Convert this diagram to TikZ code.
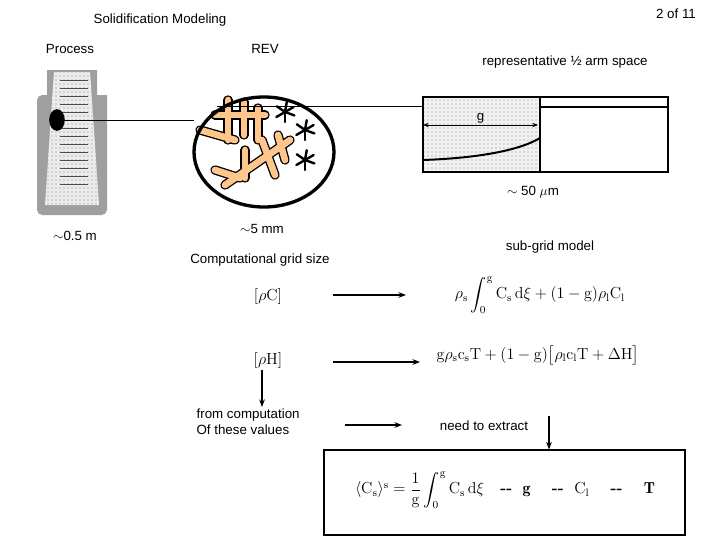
\documentclass[tikz,border=0pt]{standalone}
\usepackage{fontspec}
\setsansfont{Liberation Sans}
\usepackage{amsmath}
\usetikzlibrary{arrows.meta, positioning, patterns}

\begin{document}
\begin{tikzpicture}[
    x=0.75pt, y=-0.75pt,
    lbl/.style={font=\sffamily, inner sep=1pt},
    eqn/.style={font=\large, inner sep=1pt},
    arrow/.style={-{Stealth[length=2mm]}, thick},
    dend/.style={line width=7pt, line cap=round, draw=black},
    dendfill/.style={line width=5pt, line cap=round, draw=orange!45}
]
    \useasboundingbox (0,0) rectangle (720,540);

    % Headings
    \node[lbl] (title) at (160,20) {Solidification Modeling};
    \node[lbl] (page) at (676,14) {2 of 11};
    \node[lbl] (process) at (70,49) {Process};
    \node[lbl] (rev) at (265,49) {REV};
    \node[lbl] (arm) at (565,62) {representative ½ arm space};

    % Casting mould
    \fill[gray!75] (47,70) -- (97,70) -- (97,95) -- (107,95) -- (107,210)
        [rounded corners=4] -- (107,215) -- (37,215) -- (37,95) [sharp corners] -- (47,95) -- cycle;
    \fill[gray!15] (54,72) -- (90,72) -- (92,100) -- (99,205) -- (45,205) -- (52,100) -- cycle;
    \fill[pattern=dots, pattern color=gray] (54,72) -- (90,72) -- (92,100) -- (99,205) -- (45,205) -- (52,100) -- cycle;
    \foreach \yy in {80,88,...,190}
        \draw[gray!60!black] (60,\yy) -- (88,\yy);
    \draw[line width=1.2pt, fill=black] (57,120) ellipse (7 and 10);
    \coordinate (spot) at (64,120);

    % REV circle with dendrites
    \foreach \a/\b in {{(215,115)}/{(265,115)}, {(228,100)}/{(228,140)}, {(244,102)}/{(244,135)},
        {(258,108)}/{(258,140)}, {(200,130)}/{(235,140)}, {(225,185)}/{(290,140)},
        {(245,150)}/{(245,178)}, {(262,140)}/{(275,175)}, {(278,135)}/{(285,160)}, {(215,170)}/{(240,178)}} {
        \draw[dend] \a -- \b;
    }
    \foreach \a/\b in {{(215,115)}/{(265,115)}, {(228,100)}/{(228,140)}, {(244,102)}/{(244,135)},
        {(258,108)}/{(258,140)}, {(200,130)}/{(235,140)}, {(225,185)}/{(290,140)},
        {(245,150)}/{(245,178)}, {(262,140)}/{(275,175)}, {(278,135)}/{(285,160)}, {(215,170)}/{(240,178)}} {
        \draw[dendfill] \a -- \b;
    }
    \foreach \cx/\cy in {285/112, 305/130, 305/160} {
        \foreach \ang in {20,90,150,215,280,330}
            \draw[line width=1.8pt, line cap=round] (\cx,\cy) -- ++(\ang:10);
    }
    \draw[line width=2.5pt] (264,152) ellipse (70 and 55);
    \coordinate (revleft) at (194,120);
    \coordinate (revtop) at (217,106);

    % Arm space box
    \fill[gray!10] (423,97) rectangle (540,172);
    \fill[pattern=dots, pattern color=gray] (423,97) rectangle (540,172);
    \draw[thick] (423,97) rectangle (668,172);
    \draw[thick] (540,97) -- (540,172);
    \draw[line width=1.5pt] (540,107) -- (668,107);
    \draw[line width=1.5pt] (423,160) .. controls (480,158) and (520,150) .. (540,138);
    \coordinate (gl) at (423,125);
    \coordinate (gr) at (538,125);
    \draw[{Stealth[length=1.5mm]}-{Stealth[length=1.5mm]}] (gl) -- node[above, lbl] {g} (gr);
    \coordinate (boxleft) at (423,106);

    \draw (spot) -- (revleft);
    \draw (revtop) -- (boxleft);

    % Scale labels
    \node[lbl] (s50) at (533,192) {$\sim$ 50 $\mu$m};
    \node[lbl] (s05) at (75,236) {$\sim$0.5 m};
    \node[lbl] (s5) at (262,229) {$\sim$5 mm};
    \node[lbl] (grid) at (260,260) {Computational grid size};
    \node[lbl] (subgrid) at (550,247) {sub-grid model};

    % Quantities and models
    \node[eqn] (rc) at (268,296) {$[\rho \mathrm{C}]$};
    \node[eqn] (rcm) at (540,295) {$\rho_{\mathrm s}\displaystyle\int_0^{\mathrm g} \mathrm{C_s\,d}\xi + (1-\mathrm{g})\rho_{\mathrm l} \mathrm{C_l}$};
    \node[eqn] (rh) at (268,360) {$[\rho \mathrm{H}]$};
    \node[eqn] (rhm) at (538,355) {$\mathrm g\rho_{\mathrm s} \mathrm{c_s T} + (1-\mathrm g)\big[\rho_{\mathrm l} \mathrm{c_l T} + \Delta \mathrm H\big]$};
    \coordinate (a1s) at (333,295);
    \coordinate (a1e) at (406,295);
    \coordinate (a2s) at (333,362);
    \coordinate (a2e) at (420,362);
    \draw[arrow] (a1s) -- (a1e);
    \draw[arrow] (a2s) -- (a2e);

    \node[lbl, align=left, anchor=north west] (comp) at (195,407) {from computation\\Of these values};
    \draw[arrow] (rh.south) ++(-6,0) coordinate (rhb) -- (rhb |- comp.north);
    \node[lbl] (extract) at (484,426) {need to extract};
    \coordinate (cs) at (345,425);
    \draw[arrow] (cs) -- ++(57,0) coordinate (ce);

    % Extracted values
    \node[draw, thick, minimum width=361*0.75pt, minimum height=85*0.75pt] (out) at (504.5,492.5) {};
    \node[eqn] (avg) at (505,490) {$\langle \mathrm{C_s}\rangle^{\mathrm s} = \dfrac1{\mathrm g}\displaystyle\int_0^{\mathrm g} \mathrm{C_s\,d}\xi$\quad \textbf{-{}-} \ $\mathbf g$ \quad \textbf{-{}-} \ $\mathrm{C_l}$ \quad \textbf{-{}-} \quad $\mathbf T$};
    \coordinate (ex) at (549,416);
    \draw[arrow] (ex) -- (ex |- out.north);
\end{tikzpicture}
\end{document}
